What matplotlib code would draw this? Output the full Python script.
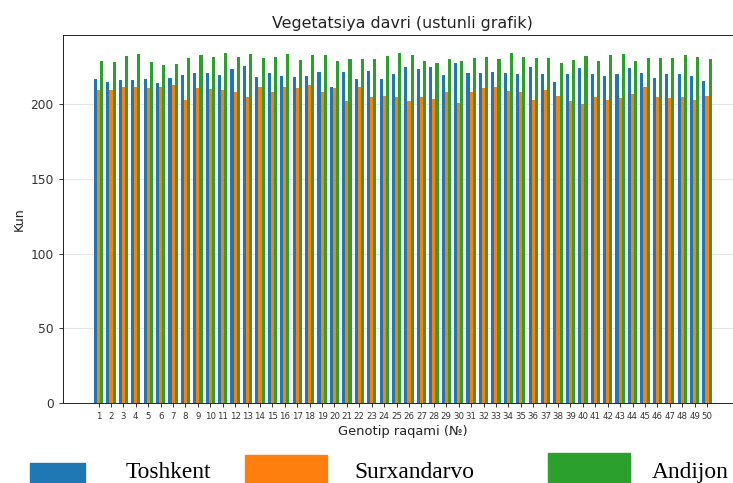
import matplotlib
matplotlib.use("Agg")
import matplotlib.pyplot as plt
import numpy as np
from matplotlib.patches import Rectangle

genotypes = list(range(1, 51))
toshkent = [216.6, 215.1, 215.8, 215.8, 216.9, 214.2, 217.3, 219.3, 220.9, 221.1,
            219.3, 223.3, 225.6, 218.4, 221.1, 219.1, 218.4, 218.9, 221.8, 211.7,
            221.3, 216.6, 222.0, 216.6, 220.2, 225.1, 223.6, 224.7, 219.5, 227.8,
            221.1, 220.7, 221.8, 220.7, 220.2, 224.7, 220.0, 215.1, 220.2, 224.0,
            220.2, 219.1, 220.0, 224.0, 220.7, 217.3, 220.2, 220.0, 218.9, 215.5]
surxandarvo = [209.5, 209.5, 211.1, 211.1, 210.6, 211.1, 212.9, 202.4, 210.6, 210.0,
               209.5, 208.4, 204.6, 211.3, 207.9, 211.7, 210.6, 212.9, 207.9, 210.6,
               202.1, 211.1, 204.6, 205.5, 204.6, 202.1, 204.6, 203.3, 208.4, 200.6,
               208.4, 210.6, 211.1, 208.8, 208.4, 202.8, 209.5, 205.5, 202.1, 200.1,
               205.0, 202.8, 203.9, 206.6, 211.7, 204.6, 204.4, 205.0, 202.8, 205.5]
andijon = [229.1, 228.0, 232.5, 233.6, 228.0, 226.2, 226.9, 230.7, 232.9, 231.8,
           234.0, 231.8, 233.6, 230.7, 231.8, 233.6, 229.6, 232.9, 232.9, 228.5,
           230.0, 230.3, 230.0, 232.3, 234.5, 232.9, 228.5, 227.8, 230.0, 228.5,
           231.1, 231.8, 230.0, 234.0, 231.8, 231.1, 231.1, 227.8, 229.6, 232.3,
           229.1, 232.9, 233.6, 228.9, 230.7, 230.7, 230.7, 232.9, 231.4, 230.3]
series_names = ["Toshkent", "Surxandarvo", "Andijon"]
colors = ["#1f77b4", "#ff7f0e", "#2ca02c"]

W, H = 733, 483
fig = plt.figure(figsize=(W / 100, H / 100), dpi=100)
ax = fig.add_axes([63 / W, (H - 403) / H, (742.6 - 63) / W, (403 - 35) / H])

x = np.array(genotypes)
w = 0.25
for off, vals, c, n in zip([-w, 0, w], [toshkent, surxandarvo, andijon], colors, series_names):
    ax.bar(x + off, vals, width=w, color=c, label=n)

ax.set_xticks(x)
ax.set_xticklabels([str(g) for g in genotypes], fontsize=6.2)
ax.tick_params(axis='y', labelsize=8.8, width=0.7, length=3.2, colors='#333333')
ax.tick_params(axis='x', width=0.7, length=3.2, pad=3, colors='#333333')
ax.grid(axis='y', alpha=0.3)
ax.set_axisbelow(True)
for s in ax.spines.values():
    s.set_linewidth(0.7)
    s.set_color('#222222')

ax.set_title("Vegetatsiya davri (ustunli grafik)", fontsize=11.4, color='#222222', pad=5)
ax.set_xlabel("Genotip raqami (№)", fontsize=9.4, color='#222222', labelpad=3)
ax.set_ylabel("Kun", fontsize=9.2, color='#222222', labelpad=3)

# legend drawn below the chart (document-style)
boxes = [(30, 463, 55, 20), (245, 455, 82, 28), (548, 453, 82, 30)]
text_x = [126, 354, 652]
for (bx, by, bw, bh), c in zip(boxes, colors):
    fig.patches.append(Rectangle((bx / W, (H - by - bh) / H), bw / W, bh / H,
                                 transform=fig.transFigure, color=c, zorder=5))
for tx, n in zip(text_x, series_names):
    fig.text(tx / W, (H - 478) / H, n, fontsize=16.8, family='Liberation Serif',
             va='baseline', ha='left', color='black')

fig.savefig("out.png", dpi=100)
